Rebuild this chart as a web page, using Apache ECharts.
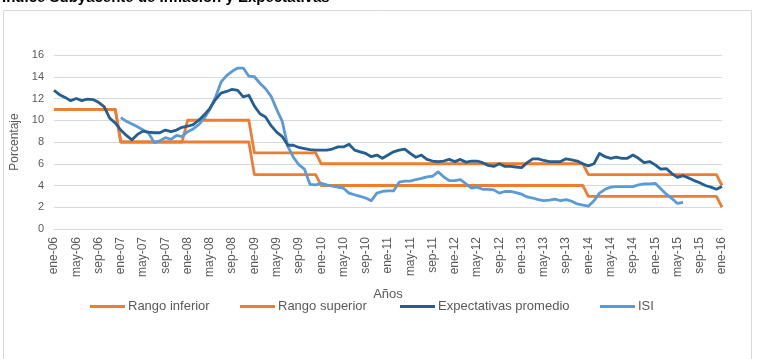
<!DOCTYPE html>
<html><head><meta charset="utf-8">
<script src="https://cdn.jsdelivr.net/npm/echarts@6/dist/echarts.min.js"></script>
<style>html,body{margin:0;padding:0;background:#fff}#c{width:762px;height:359px}</style>
</head><body><div id="c"></div>
<script>
var monthNames = ['ene','feb','mar','abr','may','jun','jul','ago','sep','oct','nov','dic'];
var categories = [];
for (var y = 6; y <= 16; y++) {
  for (var m = 0; m < 12; m++) {
    if (y === 16 && m > 0) break;
    categories.push(monthNames[m] + '-' + (y < 10 ? '0' + y : '' + y));
  }
}
var seriesNames = ['Rango inferior', 'Rango superior', 'Expectativas promedio', 'ISI'];
var yTicks = [0, 2, 4, 6, 8, 10, 12, 14, 16];

var rangoInferior = [
 11,11,11,11,11,11,11,11,11,11,11,11,
 8,8,8,8,8,8,8,8,8,8,8,8,
 8,8,8,8,8,8,8,8,8,8,8,8,
 5,5,5,5,5,5,5,5,5,5,5,5,
 4,4,4,4,4,4,4,4,4,4,4,4,
 4,4,4,4,4,4,4,4,4,4,4,4,
 4,4,4,4,4,4,4,4,4,4,4,4,
 4,4,4,4,4,4,4,4,4,4,4,4,
 3,3,3,3,3,3,3,3,3,3,3,3,
 3,3,3,3,3,3,3,3,3,3,3,3,
 2];
var rangoSuperior = [
 11,11,11,11,11,11,11,11,11,11,11,11,
 8,8,8,8,8,8,8,8,8,8,8,8,
 10,10,10,10,10,10,10,10,10,10,10,10,
 7,7,7,7,7,7,7,7,7,7,7,7,
 6,6,6,6,6,6,6,6,6,6,6,6,
 6,6,6,6,6,6,6,6,6,6,6,6,
 6,6,6,6,6,6,6,6,6,6,6,6,
 6,6,6,6,6,6,6,6,6,6,6,6,
 5,5,5,5,5,5,5,5,5,5,5,5,
 5,5,5,5,5,5,5,5,5,5,5,5,
 4];
var expectativas = [
 12.75,12.35,12.1,11.8,12.0,11.8,11.95,11.9,11.65,11.25,10.2,9.75,
 9.1,8.6,8.2,8.7,9.0,8.9,8.85,8.85,9.1,8.95,9.1,9.35,
 9.45,9.6,10.0,10.5,11.1,11.9,12.5,12.65,12.85,12.75,12.15,12.3,
 11.3,10.6,10.3,9.5,8.9,8.5,7.7,7.7,7.5,7.4,7.3,7.25,
 7.25,7.25,7.35,7.55,7.55,7.8,7.25,7.1,6.95,6.65,6.8,6.5,
 6.8,7.1,7.25,7.35,6.95,6.6,6.8,6.4,6.25,6.2,6.25,6.4,
 6.2,6.4,6.15,6.25,6.25,6.1,5.85,5.75,6.0,5.75,5.75,5.7,
 5.64,6.1,6.45,6.45,6.3,6.2,6.2,6.2,6.45,6.35,6.25,6.0,
 5.8,6.0,6.95,6.65,6.5,6.6,6.5,6.5,6.8,6.5,6.1,6.2,
 5.9,5.5,5.55,5.1,4.75,4.9,4.7,4.45,4.25,4.0,3.85,3.65,
 3.9];
var isi = [
 null,null,null,null,null,null,null,null,null,null,null,null,
 10.25,9.9,9.65,9.4,9.1,8.8,7.95,8.1,8.4,8.25,8.6,8.5,
 8.95,9.2,9.6,10.2,11.0,12.1,13.5,14.1,14.5,14.8,14.8,14.05,
 14.0,13.4,12.9,12.2,11.0,9.9,7.6,6.6,5.9,5.5,4.1,4.05,
 4.2,4.05,3.95,3.85,3.75,3.3,3.15,3.0,2.85,2.6,3.3,3.45,
 3.5,3.5,4.3,4.4,4.4,4.55,4.65,4.8,4.85,5.25,4.8,4.45,
 4.45,4.55,4.15,3.75,3.85,3.65,3.65,3.6,3.3,3.45,3.45,3.35,
 3.2,2.95,2.85,2.7,2.6,2.65,2.75,2.6,2.7,2.55,2.3,2.2,
 2.1,2.6,3.3,3.65,3.85,3.9,3.9,3.9,3.9,4.05,4.15,4.15,
 4.2,3.7,3.2,2.8,2.35,2.45,null,null,null,null,null,null,
 null];

var colors = ['#ED7D31', '#ED7D31', '#255E91', '#5B9BD5'];
var dataSets = [rangoInferior, rangoSuperior, expectativas, isi];
var legendLefts = [90, 240, 400, 600];

var chart = echarts.init(document.getElementById('c'), null, {renderer: 'canvas'});
var series = seriesNames.map(function (n, k) {
  return {
    name: n, type: 'line', data: dataSets[k], showSymbol: false, symbol: 'none',
    connectNulls: false, animation: false,
    lineStyle: {color: colors[k], width: 2.8, join: 'round'},
    itemStyle: {color: colors[k]}, z: k === 3 ? 3 : (k === 2 ? 4 : 2)
  };
});
var legends = seriesNames.map(function (n, k) {
  return {
    data: [n], left: legendLefts[k], top: 300, itemWidth: 35, itemHeight: 3,
    icon: 'rect', itemGap: 0, padding: 0,
    textStyle: {color: '#595959', fontSize: 13, fontFamily: 'Liberation Sans', padding: [0,0,0,-2]}
  };
});
chart.setOption({
  backgroundColor: '#fff',
  animation: false,
  color: colors,
  graphic: [
    {type: 'rect', shape: {x: 3.5, y: 10.5, width: 748, height: 360}, style: {fill: 'none', stroke: '#d9d9d9', lineWidth: 1}, z: -1},
    {type: 'text', left: 2, top: -10, style: {text: 'Índice Subyacente de Inflación y Expectativas', font: 'bold 15px "Liberation Sans"', fill: '#000'}}
  ],
  legend: legends,
  grid: {left: 54, right: 40, top: 55, bottom: 130, containLabel: false},
  xAxis: {
    type: 'category', data: categories, boundaryGap: false,
    name: 'Años', nameLocation: 'middle', nameGap: 59,
    nameTextStyle: {color: '#595959', fontSize: 13, fontFamily: 'Liberation Sans'},
    axisLine: {lineStyle: {color: '#d9d9d9'}},
    axisTick: {show: false},
    axisLabel: {interval: 3, rotate: 90, color: '#595959', fontSize: 12, fontFamily: 'Liberation Sans', margin: 8},
    splitLine: {show: false}
  },
  yAxis: {
    type: 'value', min: yTicks[0], max: yTicks[yTicks.length - 1], interval: 2,
    name: 'Porcentaje', nameLocation: 'middle', nameGap: 32, nameRotate: 90,
    nameTextStyle: {color: '#595959', fontSize: 12, fontFamily: 'Liberation Sans'},
    axisLine: {show: false}, axisTick: {show: false},
    axisLabel: {color: '#595959', fontSize: 11, fontFamily: 'Liberation Sans', margin: 10},
    splitLine: {lineStyle: {color: '#d9d9d9', width: 1}}
  },
  series: series
});
</script></body></html>
